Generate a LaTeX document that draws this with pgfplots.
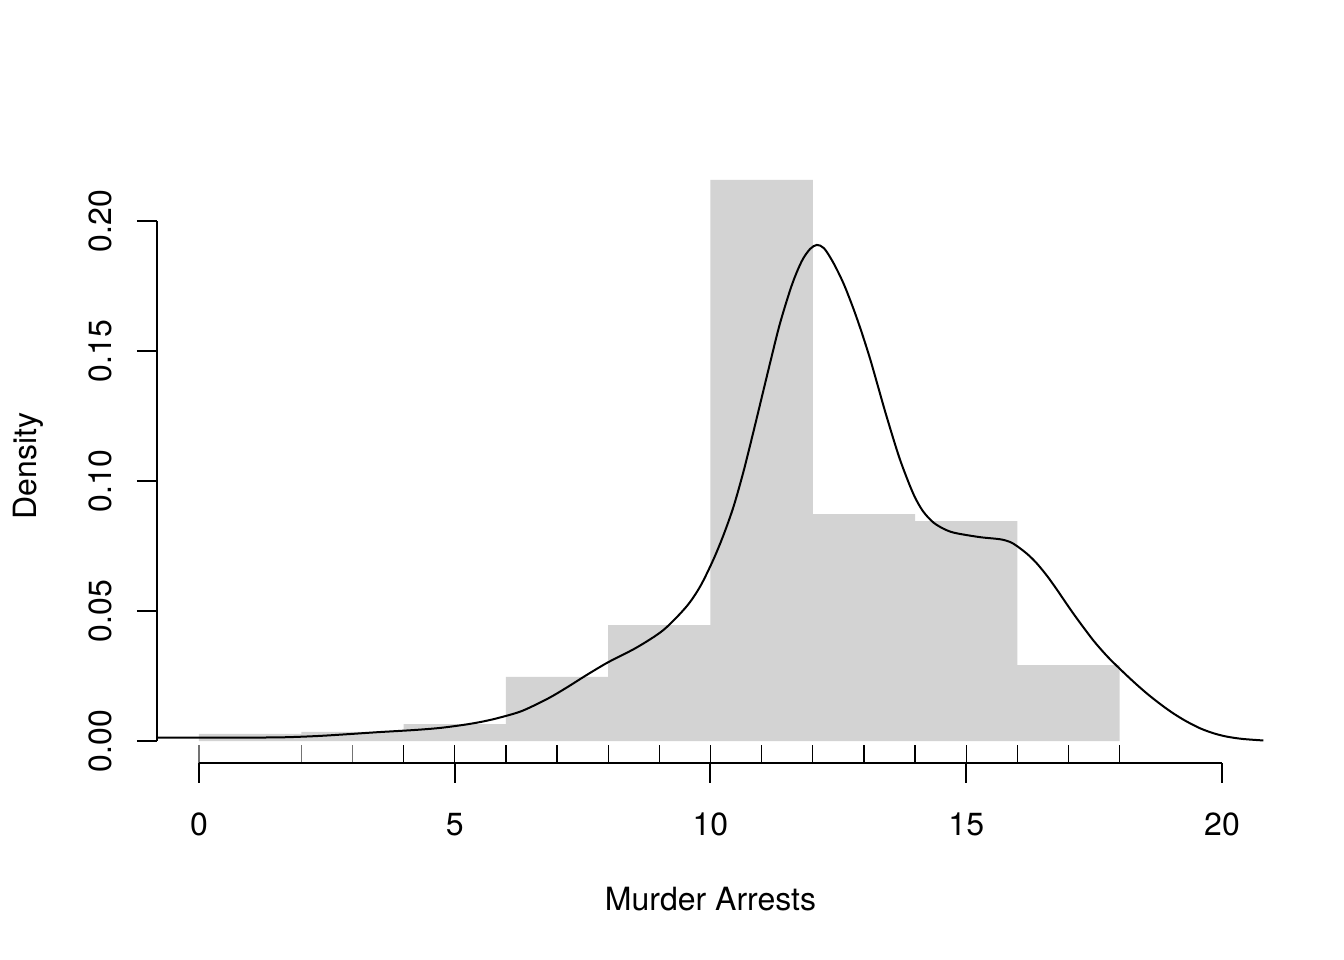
\documentclass[border=0pt]{standalone}
\usepackage{fontspec}
\setmainfont{TeX Gyre Heros}
\usepackage{pgfplots}
\pgfplotsset{compat=1.18}
\definecolor{histgray}{RGB}{211,211,211}
\begin{document}
\begin{tikzpicture}[font=\fontsize{12bp}{14.4bp}\selectfont]
\path[use as bounding box] (0,0) rectangle (504bp,360bp);
\begin{axis}[
  at={(58.875bp,73.875bp)}, anchor=south west,
  scale only axis, width=415.1bp, height=222.75bp,
  xmin=-0.821, xmax=20.82, ymin=-0.00846, ymax=0.22,
  axis x line*=bottom, axis y line*=left,
  axis line style={draw=none},
  xtick={0,5,10,15,20}, ytick={0,0.05,0.1,0.15,0.2},
  minor tick num=0,
  tick align=outside, major tick length=7.5bp,
  tick style={black, line width=0.75bp},
  scaled y ticks=false,
  /pgf/number format/assume math mode=true,
  tick label style={font=\fontsize{12bp}{14.4bp}\selectfont},
  label style={font=\fontsize{12bp}{14.4bp}\selectfont},
  yticklabel style={/pgf/number format/fixed, /pgf/number format/fixed zerofill, /pgf/number format/precision=2,
    xshift=-9.375bp, rotate=90, anchor=base, inner sep=0pt},
  xticklabel style={yshift=-19.5bp, anchor=base, inner sep=0pt},
  xlabel={Murder Arrests},
  xlabel style={at={(axis description cs:0.5,-0.2475)}, anchor=base, inner sep=0pt},
  ylabel={Density},
  ylabel style={at={(axis description cs:-0.1089,0.5)}, anchor=base, inner sep=0pt},
  clip=false,
]
% histogram bars
\addplot[ybar interval, fill=histgray, draw=none] coordinates {
  (0,0.0027) (2,0.0035) (4,0.0065) (6,0.0247) (8,0.0446)
  (10,0.2158) (12,0.0873) (14,0.0846) (16,0.0292) (18,0.0292)
};
% density curve
\addplot[black, line width=0.75bp, smooth, tension=0.5] coordinates {
  (-0.82,0.0013) (-0.37,0.0013) (0.5,0.0013) (1.58,0.0014) (2.3,0.0019)
  (2.89,0.0026) (3.5,0.0034) (4.19,0.0042) (4.7,0.0050) (5.17,0.0062)
  (5.5,0.0073) (5.82,0.0087) (6.28,0.0113) (6.67,0.0148) (6.93,0.0175)
  (7.25,0.0213) (7.58,0.0254) (8.0,0.0303) (8.56,0.0360) (9.08,0.0427)
  (9.53,0.0517) (9.8,0.0595) (10.05,0.0695) (10.25,0.0790) (10.45,0.0901)
  (10.65,0.1040) (10.84,0.1190) (11.0,0.1320) (11.16,0.1450) (11.35,0.1600)
  (11.55,0.1730) (11.68,0.1800) (11.81,0.1855) (11.95,0.1893) (12.08,0.1908)
  (12.22,0.1895) (12.40,0.1840) (12.6,0.1760) (12.79,0.1665) (12.95,0.1575)
  (13.12,0.1470) (13.28,0.1360) (13.44,0.1250) (13.7,0.1085) (13.96,0.0953)
  (14.15,0.0885) (14.36,0.0840) (14.6,0.0812) (14.81,0.0799) (15.27,0.0784)
  (15.66,0.0776) (15.85,0.0766) (15.99,0.0750) (16.2,0.0718) (16.38,0.0683)
  (16.58,0.0635) (16.77,0.0583) (16.96,0.0528) (17.16,0.0472) (17.48,0.0388)
  (17.75,0.0327) (18.0,0.0278) (18.27,0.0228) (18.53,0.0183) (18.8,0.0141)
  (19.05,0.0106) (19.3,0.0076) (19.57,0.0049) (19.83,0.0030) (20.09,0.0017)
  (20.4,0.0008) (20.81,0.0002)
};
% rug
\addplot[black!55, line width=0.45bp, unbounded coords=jump] coordinates {
  (0,-0.00846) (0,-0.00154) (0,nan)
  (2,-0.00846) (2,-0.00154) (2,nan)
  (3,-0.00846) (3,-0.00154)
};
\addplot[black, line width=0.5bp, unbounded coords=jump] coordinates {
  (4,-0.00846) (4,-0.00154) (4,nan)
  (5,-0.00846) (5,-0.00154) (5,nan)
  (6,-0.00846) (6,-0.00154) (6,nan)
  (7,-0.00846) (7,-0.00154) (7,nan)
  (8,-0.00846) (8,-0.00154) (8,nan)
  (9,-0.00846) (9,-0.00154) (9,nan)
  (10,-0.00846) (10,-0.00154) (10,nan)
  (11,-0.00846) (11,-0.00154) (11,nan)
  (12,-0.00846) (12,-0.00154) (12,nan)
  (13,-0.00846) (13,-0.00154) (13,nan)
  (14,-0.00846) (14,-0.00154) (14,nan)
  (15,-0.00846) (15,-0.00154) (15,nan)
  (16,-0.00846) (16,-0.00154) (16,nan)
  (17,-0.00846) (17,-0.00154) (17,nan)
  (18,-0.00846) (18,-0.00154)
};
% axis lines (R style)
\draw[line width=0.75bp] (axis cs:0,-0.00846) -- (axis cs:20,-0.00846);
\draw[line width=0.75bp] (axis cs:-0.821,0) -- (axis cs:-0.821,0.2);
\end{axis}
\end{tikzpicture}
\end{document}
